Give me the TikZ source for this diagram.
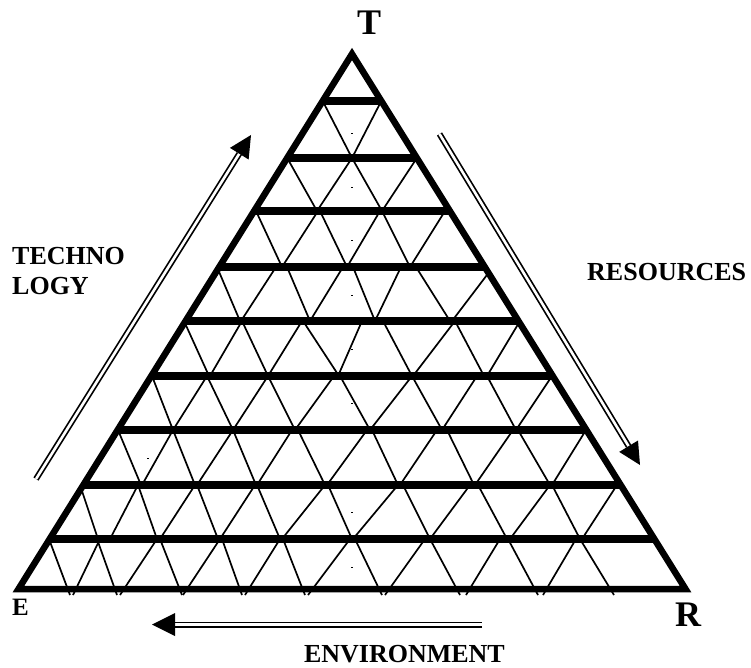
\documentclass[tikz,border=0pt]{standalone}
\usepackage{fontspec}
\setmainfont{Liberation Serif}
\usetikzlibrary{calc}
\begin{document}
\begin{tikzpicture}[x=1pt,y=-1pt,
  lat/.style={line width=1.7pt, line cap=butt},
  barline/.style={line width=8.5pt},
  outline/.style={line width=6.5pt, line join=miter},
  dbl/.style={line width=1.7pt, double, double distance=2.6pt, line cap=butt},
  dotmark/.style={line width=0.9pt},
  lab/.style={inner sep=0pt, font=\fontsize{26}{30}\selectfont\bfseries},
  big/.style={inner sep=0pt, font=\fontsize{36}{40}\selectfont\bfseries}]
\useasboundingbox (0,0) rectangle (751,668);
\coordinate (apex) at (352,54);
\coordinate (cl) at (18.5,589);
\coordinate (cr) at (685.5,589);
\begin{scope}
  \clip (apex) -- (cl) -- (18.5,597) -- (685.5,597) -- (cr) -- cycle;
  % lattice, row by row
  \foreach \a/\b in {322.7/352, 381.3/352}
    \draw[lat] (\a,101) -- (\b,158);
  \foreach \a/\b in {287.2/317, 352/317, 352/382, 416.9/382}
    \draw[lat] (\a,158) -- (\b,211);
  \foreach \a/\b in {256/282, 318/282, 320/347, 380/347, 382/410, 445/410}
    \draw[lat] (\a,211) -- (\b,267);
  \foreach \a/\b in {217/240, 276/241, 287/310, 343/310, 353/375, 401/375, 416/450, 493/452}
    \draw[lat] (\a,267) -- (\b,321);
  \foreach \a/\b in {184/209, 242/210, 242/268, 302/268, 303/339, 362/338, 383/412, 455/413, 455/484, 520/487}
    \draw[lat] (\a,321) -- (\b,376);
  \foreach \a/\b in {152/173, 207/173, 207/233, 268/233, 268/295, 334/295, 340/370, 412/370, 412/442, 477/442, 487/516, 552/516}
    \draw[lat] (\a,376) -- (\b,430);
  \foreach \a/\b in {118/141, 173/142, 173/195, 233/197, 233/256, 292/257, 298/325, 367/327, 372/398, 437/400, 447/474, 513/475, 518/550, 586/552}
    \draw[lat] (\a,430) -- (\b,485);
  \foreach \a/\b in {80/98, 138/110, 138/157, 195/160, 197/218, 255/220, 257/280, 325/282, 328/352, 398/353, 403/430, 470/430, 478/507, 550/510, 552/580, 617/582}
    \draw[lat] (\a,485) -- (\b,539);
  \foreach \a/\b in {49/70, 100/73, 97/117, 157/120, 160/182, 220/183, 222/242, 280/245, 283/305, 350/308, 355/382, 425/385, 430/460, 500/466, 508/538, 576/543, 580/614}
    \draw[lat] (\a,539) -- (\b,595);
  % thick bars
  \foreach \y in {101,158,211,267,321,376,430,485,539}
    \draw[barline] (0,\y) -- (751,\y);
\end{scope}
% small marks
\foreach \x/\y in {352/133, 352/187, 352/240, 352/295, 352/349, 352/403, 148/458, 352/512, 352/567}
  \draw[dotmark] ({\x-1},\y) -- ({\x+1},\y);
% outline
\draw[outline] (apex) -- (cl) -- (cr) -- cycle;
% arrows
\coordinate (tt) at (36,479);
\coordinate (th) at (239.3,153.7);
\coordinate (tp) at (251,135);
\draw[dbl] (tt) -- (th);
\fill ($(th)!11pt!90:(tp)$) -- (tp) -- ($(th)!11pt!-90:(tp)$) -- cycle;
\coordinate (rt) at (439.5,134);
\coordinate (rh) at (628.6,446.2);
\coordinate (rp) at (640,465);
\draw[dbl] (rt) -- (rh);
\fill ($(rh)!11pt!90:(rp)$) -- (rp) -- ($(rh)!11pt!-90:(rp)$) -- cycle;
\coordinate (et) at (482,624.5);
\coordinate (eh) at (175,624.5);
\coordinate (ep) at (152,624.5);
\draw[dbl] (et) -- (eh);
\fill ($(eh)!11.5pt!90:(ep)$) -- (ep) -- ($(eh)!11.5pt!-90:(ep)$) -- cycle;
% labels
\node[big] (lT) at (369,22.5) {T};
\node[big] (lR) at (688,614.5) {R};
\node[lab, font=\fontsize{25}{28}\selectfont\bfseries] (lE) at (20.5,607) {E};
\node[lab, anchor=west] (lt1) at (12,256) {TECHNO};
\node[lab, anchor=west] (lt2) at (12,286) {LOGY};
\node[lab, anchor=west] (lres) at (587,272.5) {RESOURCES};
\node[lab, anchor=east] (lenv) at (505,654.5) {ENVIRONMENT};
\end{tikzpicture}
\end{document}
